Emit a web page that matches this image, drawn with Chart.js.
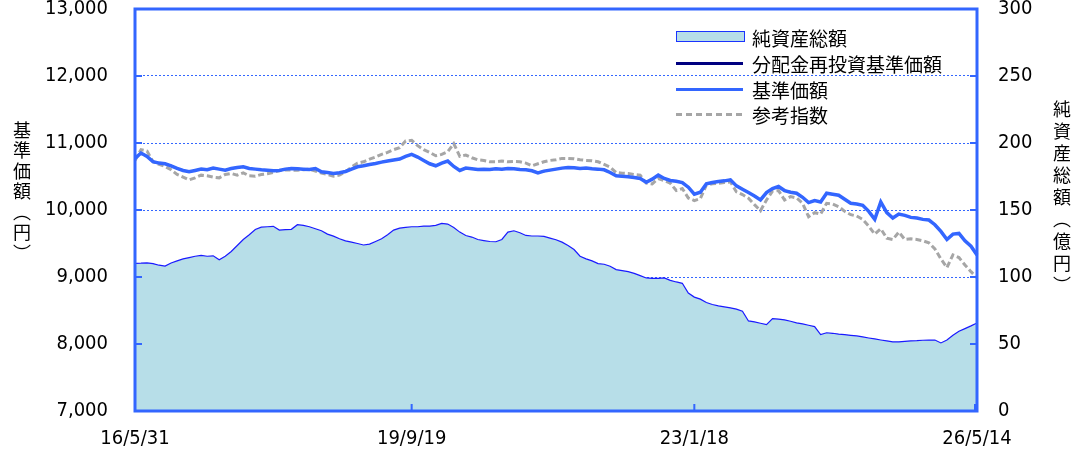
<!DOCTYPE html>
<html>
<head>
<meta charset="utf-8">
<script src="https://cdn.jsdelivr.net/npm/chart.js@4.4.1/dist/chart.umd.min.js"></script>
<style>
  body { margin: 0; background: #fff; }
  #wrap { position: relative; width: 1083px; height: 456px; }
  .vtitle { position: absolute; writing-mode: vertical-rl; font-family: "Noto Sans CJK JP", sans-serif;
            font-size: 18px; letter-spacing: 2.5px; color: #000; line-height: 1; }
  .leg { position: absolute; left: 752px; font-family: "Noto Sans CJK JP", sans-serif; font-size: 19px;
         color: #000; line-height: 1; transform: translateY(-50%); white-space: nowrap; }
  .sw { position: absolute; left: 676px; width: 67px; }
</style>
</head>
<body>
<div id="wrap">
  <canvas id="c" width="1083" height="456"></canvas>
  <div class="vtitle" style="left:13px;top:121px">基準価額（円）</div>
  <div class="vtitle" style="left:1053px;top:100px;letter-spacing:4px">純資産総額（億円）</div>

  <div class="sw" style="top:31px;height:9px;background:#b7dee8;border:1.5px solid #1a33ff"></div>
  <div class="leg" style="top:37px">純資産総額</div>
  <div class="sw" style="top:62px;height:3px;background:#000080"></div>
  <div class="leg" style="top:63px">分配金再投資基準価額</div>
  <div class="sw" style="top:88px;height:3px;background:#3366ff"></div>
  <div class="leg" style="top:89px">基準価額</div>
  <div class="sw" style="top:113px;height:3px;background:repeating-linear-gradient(to right,#a6a6a6 0 6px,transparent 6px 10px)"></div>
  <div class="leg" style="top:114px">参考指数</div>
</div>
<script>
// x-axis tick labels and the point index where each sits
const tickLabels = ['16/5/31', '19/9/19', '23/1/18', '26/5/14'];
const tickIndex = [0, 46, 93, 140];

// 基準価額 (円)
const navValues = [
  10770, 10850, 10800, 10720, 10700, 10690, 10660, 10620, 10590, 10570,
  10590, 10610, 10600, 10625, 10610, 10595, 10620, 10635, 10645, 10620,
  10610, 10600, 10595, 10585, 10590, 10610, 10620, 10615, 10610, 10605,
  10620, 10570, 10560, 10545, 10555, 10575, 10610, 10645, 10660, 10680,
  10695, 10715, 10730, 10745, 10760, 10800, 10830, 10790, 10740, 10690,
  10660, 10700, 10730, 10650, 10590, 10625, 10615, 10605, 10610, 10605,
  10615, 10610, 10620, 10615, 10605, 10600, 10585, 10555, 10580, 10595,
  10610, 10625, 10635, 10630, 10620, 10625, 10615, 10610, 10600, 10560,
  10510, 10505, 10495, 10485, 10470, 10415, 10460, 10520, 10470, 10440,
  10430, 10410, 10340, 10235, 10265, 10390, 10410, 10425, 10435, 10450,
  10360, 10310, 10260, 10210, 10150, 10260, 10320, 10350, 10290, 10265,
  10250, 10190, 10110, 10140, 10120, 10250, 10235, 10220, 10160, 10100,
  10090, 10070, 9980, 9860, 10120, 9960, 9880, 9940, 9920, 9890,
  9880, 9860, 9850, 9780, 9680, 9560, 9640, 9650, 9540, 9460,
  9330
];

// 分配金再投資基準価額 (no distributions, same path)
const reinvestValues = navValues.slice();

// 参考指数
const indexValues = [
  10740, 10900, 10880, 10720, 10680, 10650, 10600, 10530, 10490, 10450,
  10480, 10520, 10510, 10490, 10480, 10530, 10545, 10520, 10555, 10510,
  10505, 10530, 10540, 10560, 10590, 10600, 10595, 10595, 10600, 10610,
  10580, 10550, 10530, 10505, 10520, 10570, 10640, 10700, 10720, 10760,
  10790, 10830, 10860, 10900, 10930, 11030, 11040, 10960, 10900, 10860,
  10810, 10830, 10870, 10990, 10800, 10820, 10780, 10750, 10740, 10720,
  10720, 10730, 10720, 10725, 10720, 10700, 10660, 10690, 10720, 10740,
  10750, 10770, 10770, 10765, 10750, 10740, 10735, 10720, 10680, 10640,
  10560, 10550, 10545, 10530, 10520, 10400, 10390, 10470, 10440, 10400,
  10290, 10320, 10180, 10140, 10170, 10370, 10390, 10400, 10410, 10420,
  10270, 10230, 10175, 10080, 9990, 10150, 10280, 10290, 10150, 10200,
  10180, 10100, 9900, 9960, 9940, 10100, 10090, 10050, 9980, 9930,
  9910, 9860, 9760, 9640, 9720, 9580, 9560, 9670, 9560, 9570,
  9560, 9540, 9510, 9420, 9270, 9140, 9330, 9290, 9180, 9080,
  8990
];

// 純資産総額 (億円)
const assetValues = [
  110.2, 110.3, 110.5, 110.0, 108.8, 108.2, 110.5, 112.0, 113.5, 114.5,
  115.5, 116.2, 115.5, 115.8, 112.8, 115.5, 119.0, 123.5, 128.0, 131.5,
  135.5, 137.2, 137.5, 137.8, 135.0, 135.3, 135.6, 139.0, 138.5, 137.5,
  136.0, 134.5, 132.0, 130.5, 128.5, 127.0, 126.0, 125.0, 123.9, 124.5,
  126.5, 128.5, 131.5, 135.0, 136.5, 137.0, 137.5, 137.5, 138.0, 138.0,
  138.5, 140.0, 139.5, 137.0, 133.5, 131.0, 129.8, 128.0, 127.2, 126.5,
  126.3, 128.0, 133.5, 134.5, 133.0, 131.0, 130.6, 130.6, 130.3, 129.0,
  127.8, 126.0, 123.5, 120.5, 115.5, 113.5, 112.0, 110.0, 109.5, 108.0,
  105.5, 104.8, 104.0, 102.7, 101.0, 99.3, 99.0, 99.0, 99.3, 97.5,
  96.3, 95.3, 88.0, 85.0, 83.5, 81.0, 79.5, 78.4, 77.7, 77.0,
  76.0, 74.5, 67.2, 66.5, 65.5, 64.5, 69.0, 68.6, 68.0, 67.0,
  65.8, 65.0, 64.0, 63.0, 57.0, 58.4, 58.0, 57.4, 57.0, 56.5,
  56.0, 55.3, 54.5, 53.8, 53.0, 52.3, 51.6, 51.6, 52.0, 52.3,
  52.5, 52.8, 52.9, 53.0, 50.8, 53.0, 56.5, 59.5, 61.5, 63.5,
  65.7
];

const labels = navValues.map((_, i) => {
  const k = tickIndex.indexOf(i);
  return k >= 0 ? tickLabels[k] : '';
});

const BLUE = '#3366ff';
const TICK_FONT = { family: '"DejaVu Sans Condensed", "Liberation Sans", sans-serif', size: 20 };

// frame + inward tick marks
const framePlugin = {
  id: 'frame',
  afterDatasetsDraw(chart) {
    const { ctx, chartArea: a, scales } = chart;
    ctx.save();
    ctx.strokeStyle = BLUE;
    ctx.lineWidth = 2;
    ctx.beginPath();
    for (let v = 8000; v <= 12000; v += 1000) {
      const y = scales.y.getPixelForValue(v);
      ctx.moveTo(a.left, y); ctx.lineTo(a.left + 7, y);
    }
    for (let v = 50; v <= 250; v += 50) {
      const y = scales.y1.getPixelForValue(v);
      ctx.moveTo(a.right, y); ctx.lineTo(a.right - 7, y);
    }
    tickIndex.slice(1).forEach(i => {
      const x = Math.min(scales.x.getPixelForValue(i), a.right - 2);
      ctx.moveTo(x, a.bottom); ctx.lineTo(x, a.bottom - 7);
    });
    ctx.stroke();
    ctx.lineWidth = 3;
    ctx.strokeRect(a.left, a.top, a.right - a.left, a.bottom - a.top);
    ctx.restore();
  }
};

Chart.defaults.color = '#000';

new Chart(document.getElementById('c'), {
  type: 'line',
  data: {
    labels: labels,
    datasets: [
      { label: '基準価額', data: navValues, yAxisID: 'y', borderColor: BLUE, borderWidth: 3.5,
        pointRadius: 0, tension: 0, order: 0 },
      { label: '分配金再投資基準価額', data: reinvestValues, yAxisID: 'y', borderColor: '#000080', borderWidth: 2,
        pointRadius: 0, tension: 0, order: 1 },
      { label: '参考指数', data: indexValues, yAxisID: 'y', borderColor: '#a6a6a6', borderWidth: 3,
        borderDash: [6, 3], pointRadius: 0, tension: 0, order: 2 },
      { label: '純資産総額', data: assetValues, yAxisID: 'y1', borderColor: '#1a1aff', borderWidth: 1.2,
        backgroundColor: '#b7dee8', fill: 'start', pointRadius: 0, tension: 0, order: 3 }
    ]
  },
  options: {
    responsive: false,
    animation: false,
    devicePixelRatio: 1,
    layout: { padding: { top: 9, left: 0, right: 0, bottom: 0 } },
    plugins: { legend: { display: false }, tooltip: { enabled: false } },
    scales: {
      x: {
        grid: { display: false, drawTicks: false },
        border: { display: false },
        ticks: { autoSkip: false, maxRotation: 0, minRotation: 0, padding: 16, font: TICK_FONT },
        afterFit(s) { s.height = 45; s.paddingLeft = 0; s.paddingRight = 0; }
      },
      y: {
        position: 'left', min: 7000, max: 13000,
        ticks: { stepSize: 1000, padding: 27, font: TICK_FONT,
                 callback: v => v.toLocaleString('en-US') },
        grid: { color: BLUE, lineWidth: 1, drawTicks: false },
        border: { display: false, dash: [2, 2] },
        afterFit(s) { s.width = 135; s.paddingTop = 0; s.paddingBottom = 0; }
      },
      y1: {
        position: 'right', min: 0, max: 300,
        ticks: { stepSize: 50, padding: 21, font: TICK_FONT },
        grid: { display: false, drawTicks: false },
        border: { display: false },
        afterFit(s) { s.width = 106; s.paddingTop = 0; s.paddingBottom = 0; }
      }
    }
  },
  plugins: [framePlugin]
});
</script>
</body>
</html>
